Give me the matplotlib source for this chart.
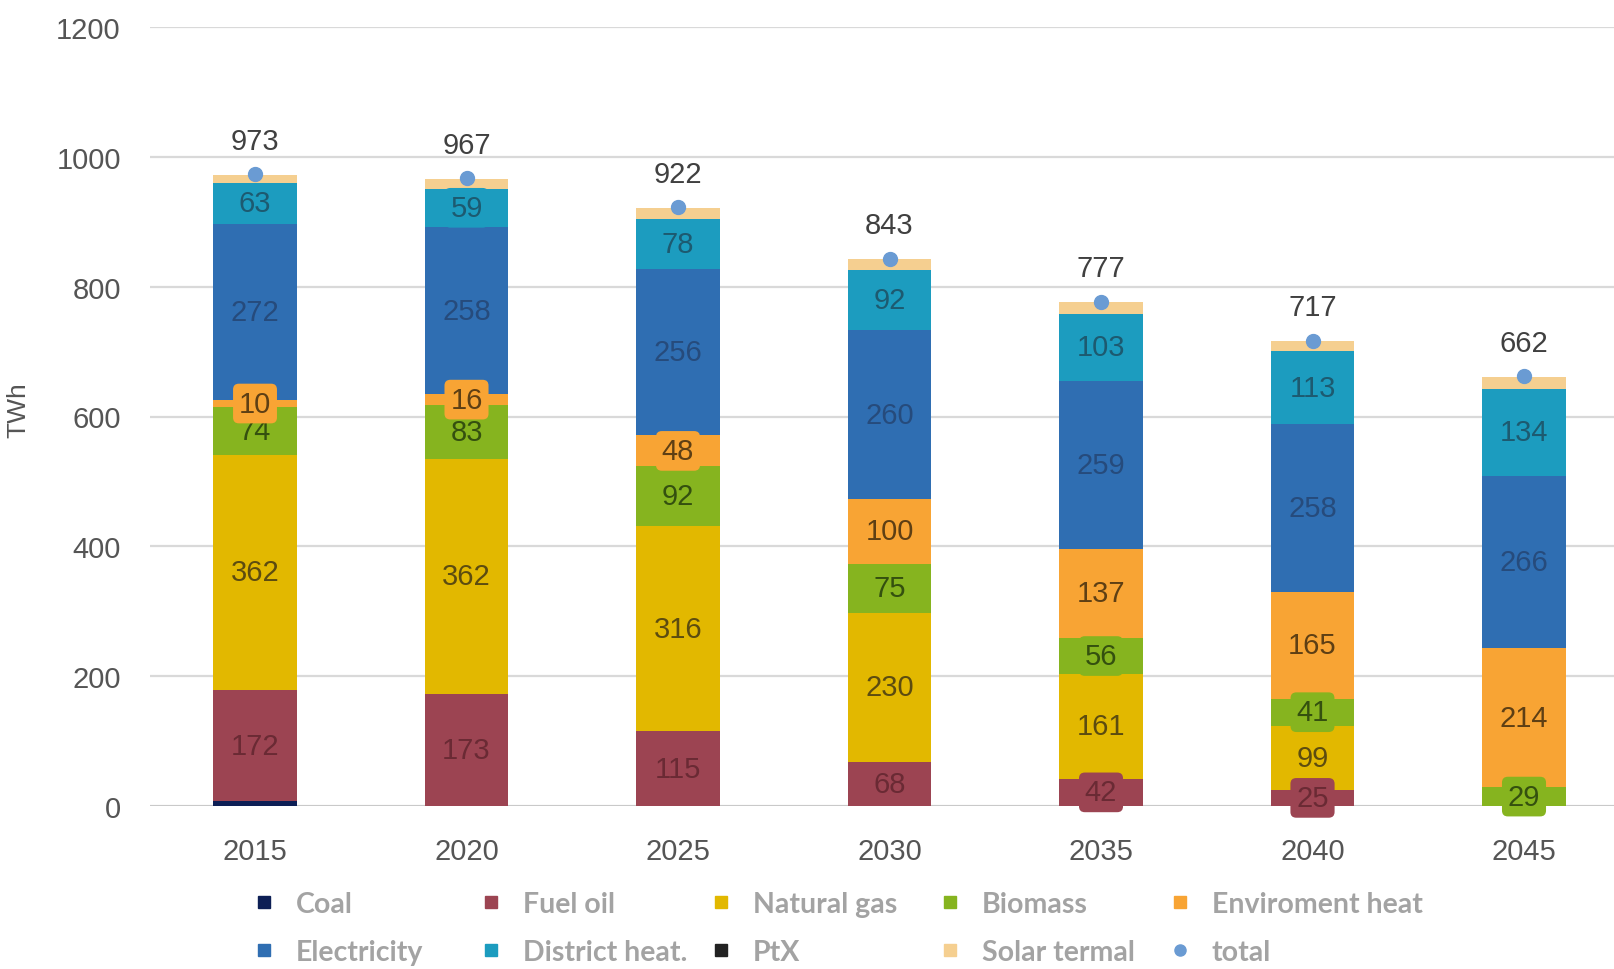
# Stacked bar chart: final energy for heating by carrier, 2015-2045 (TWh)

import numpy as np
import matplotlib
matplotlib.use('Agg')
import matplotlib.pyplot as plt
from matplotlib.lines import Line2D

plt.rcParams['font.family'] = ['Liberation Sans', 'DejaVu Sans']

years = ['2015', '2020', '2025', '2030', '2035', '2040', '2045']

coal = [7, 0, 0, 0, 0, 0, 0]
fuel_oil = [172, 173, 115, 68, 42, 25, 0]
natural_gas = [362, 362, 316, 230, 161, 99, 0]
biomass = [74, 83, 92, 75, 56, 41, 29]
env_heat = [10, 16, 48, 100, 137, 165, 214]
electricity = [272, 258, 256, 260, 259, 258, 266]
district_heat = [63, 59, 78, 92, 103, 113, 134]
ptx = [0, 0, 0, 0, 0, 0, 0]
solar_thermal = [12, 15, 16, 17, 18, 15, 18]
total = [973, 967, 922, 843, 777, 717, 662]

series = [
    ('Coal', coal, '#0d1f55', None),
    ('Fuel oil', fuel_oil, '#9c4452', '#6a2a34'),
    ('Natural gas', natural_gas, '#e2b800', '#5c4c10'),
    ('Biomass', biomass, '#86b41f', '#34500f'),
    ('Enviroment heat', env_heat, '#f8a434', '#5e3f14'),
    ('Electricity', electricity, '#2f6eb2', '#264b7c'),
    ('District heat.', district_heat, '#1c9cbf', '#1d5a70'),
    ('PtX', ptx, '#222222', None),
    ('Solar termal', solar_thermal, '#f5cf90', None),
]
total_color = '#6a9bd3'

fig = plt.figure(figsize=(16.14, 9.70), dpi=100)
ax = fig.add_axes([150 / 1614, 1 - 807 / 970, 1 - 150 / 1614, (807 - 28) / 970])

x = np.arange(len(years))
bottom = np.zeros(len(years))
width = 0.395
for name, vals, col, lab_col in series:
    vals = np.array(vals, dtype=float)
    ax.bar(x, vals, width, bottom=bottom, color=col, zorder=2)
    if lab_col is not None:
        for i, v in enumerate(vals):
            if v > 0:
                ax.text(x[i], bottom[i] + v / 2, f'{int(v)}', ha='center', va='center',
                        fontsize=21, color=lab_col, zorder=4,
                        bbox=dict(boxstyle='round,pad=0.2,rounding_size=0.2',
                                  facecolor=col, edgecolor='none'))
    bottom += vals

# total markers and labels
ax.plot(x, total, 'o', color=total_color, markersize=10, zorder=5)
for i, t in enumerate(total):
    ax.annotate(f'{t}', (x[i], t), xytext=(0, 24), textcoords='offset points',
                ha='center', va='center', fontsize=21, color='#404040', zorder=6)

ax.set_xlim(-0.4965, 6.4255)
ax.set_ylim(0, 1200)
ax.set_yticks(range(0, 1201, 200))
ax.set_xticks(x)
ax.set_xticklabels(years)
ax.tick_params(axis='both', length=0, labelsize=21, labelcolor='#555555')
ax.tick_params(axis='x', pad=22)
ax.tick_params(axis='y', pad=21)
ax.yaxis.grid(True, color='#d9d9d9', linewidth=1.6, zorder=0)
ax.set_axisbelow(True)
ax.axhline(0, color='#c4c4c4', linewidth=1.8, zorder=1)
for s in ax.spines.values():
    s.set_visible(False)
ax.set_ylabel('TWh', fontsize=19, color='#555555', labelpad=12)
ax.yaxis.set_label_coords(-0.082, 0.51)

# legend laid out as a 5 x 2 grid
legend_rows = [
    ['Coal', 'Fuel oil', 'Natural gas', 'Biomass', 'Enviroment heat'],
    ['Electricity', 'District heat.', 'PtX', 'Solar termal', 'total'],
]
colors = {name: col for name, _, col, _ in series}
colors['total'] = total_color
col_x = [250, 477, 707, 936, 1166]
row_y = [905, 953]
for r, row in enumerate(legend_rows):
    for c, name in enumerate(row):
        marker = 'o' if name == 'total' else 's'
        h = Line2D([], [], linestyle='none', marker=marker, markersize=8,
                   color=colors[name])
        fig.legend([h], [name], loc='center left',
                   bbox_to_anchor=(col_x[c] / 1614, 1 - row_y[r] / 970),
                   frameon=False, borderpad=0, borderaxespad=0,
                   handlelength=1.0, handletextpad=0.6,
                   prop={'family': 'Lato', 'weight': 'bold', 'size': 20.5},
                   labelcolor='#a3a3a3')

plt.savefig('out.png', dpi=100)
